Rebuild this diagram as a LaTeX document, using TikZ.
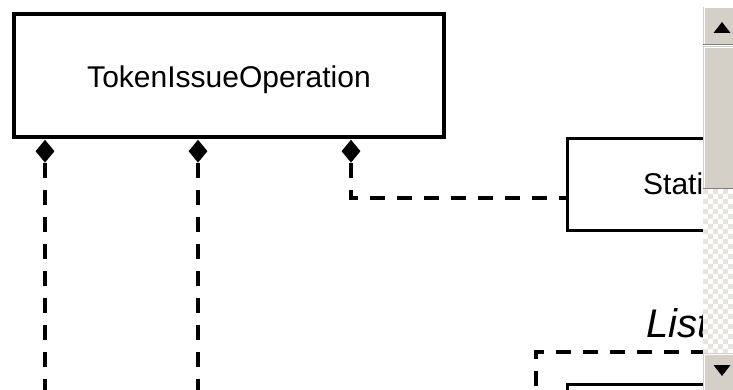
\documentclass[tikz,border=0pt]{standalone}
\usepackage{fontspec}
\setmainfont{Liberation Sans}
\usetikzlibrary{shapes.geometric}
\definecolor{sbgrey}{HTML}{D4D0C8}
\definecolor{sbdark}{HTML}{808080}
\definecolor{sblight}{HTML}{E6E4DF}
\tikzset{
  umlbox/.style={draw=black, line width=3.2pt, fill=white, inner sep=0pt},
  compdiamond/.style={diamond, fill=black, draw=none, minimum width=19pt, minimum height=23pt, inner sep=0pt, anchor=north},
  depline/.style={line width=3.3pt, dash pattern=on 15pt off 12pt},
  sbpart/.style={fill=sbgrey, draw=none},
}
\begin{document}
\begin{tikzpicture}[x=1pt,y=-1pt]
\useasboundingbox (0,0) rectangle (733,390);
\clip (0,0) rectangle (733,390);
% main class box
\node[umlbox, minimum width=430pt, minimum height=123pt, text height=25pt, text depth=0pt, font=\fontsize{30}{36}\selectfont] (op) at (229,75.5) {TokenIssueOperation};
% composition diamonds
\node[compdiamond] (d1) at (45,139.5) {};
\node[compdiamond] (d2) at (198,139.5) {};
\node[compdiamond] (d3) at (351,139.5) {};
% second class box (cut off by scrollbar)
\node[umlbox, anchor=north west, minimum width=220pt, minimum height=92pt] (stat) at (566,137) {};
\node[anchor=base west, font=\fontsize{30}{36}\selectfont, inner sep=0pt] (stattext) at (643,195) {Stati};
\coordinate (b1) at (45,395);
\coordinate (b2) at (198,395);
\coordinate (se) at (566,198);
\draw[depline] (d1.south) -- (b1);
\draw[depline] (d2.south) -- (b2);
\draw[depline] (d3.south) |- (se);
% package frame
\node[anchor=base west, font=\itshape\fontsize{40}{48}\selectfont, inner sep=0pt] (pkg) at (646,337) {List};
\coordinate (pf1) at (536,410);
\coordinate (pf2) at (720,352);
\draw[depline, dash phase=3pt] (pf1) |- (pf2);
\node[umlbox, anchor=north west, minimum width=200pt, minimum height=40pt] (inner) at (566,383) {};
% scrollbar
\fill[white] (703,0) rectangle (733,390);
\foreach \i in {0,...,6}{
  \foreach \j in {0,...,33}{
    \pgfmathtruncatemacro{\chkpar}{mod(\i+\j,2)}
    \ifnum\chkpar=0
      \fill[sblight] (703+5*\i,189+5*\j) rectangle ++(5,5);
    \fi
  }
}
% top button
\fill[sbpart] (703,7) rectangle (733,45);
\draw[white, line width=1pt] (704,45) -- (704,8) -- (733,8);
\draw[sbdark, line width=1.5pt] (703,44.5) -- (733,44.5);
\fill[black] (722,22) -- (713.5,33) -- (730.5,33) -- cycle;
% thumb
\fill[sbpart] (703,46) rectangle (733,189);
\draw[white, line width=1pt] (704,188) -- (704,47.5) -- (733,47.5);
\draw[sbdark, line width=1.5pt] (703,188.5) -- (733,188.5);
% bottom button
\fill[sbpart] (703,353) rectangle (733,390);
\draw[white, line width=1pt] (704,390) -- (704,354) -- (733,354);
\fill[black] (713.5,365) -- (730.5,365) -- (722,376) -- cycle;
\end{tikzpicture}
\end{document}
